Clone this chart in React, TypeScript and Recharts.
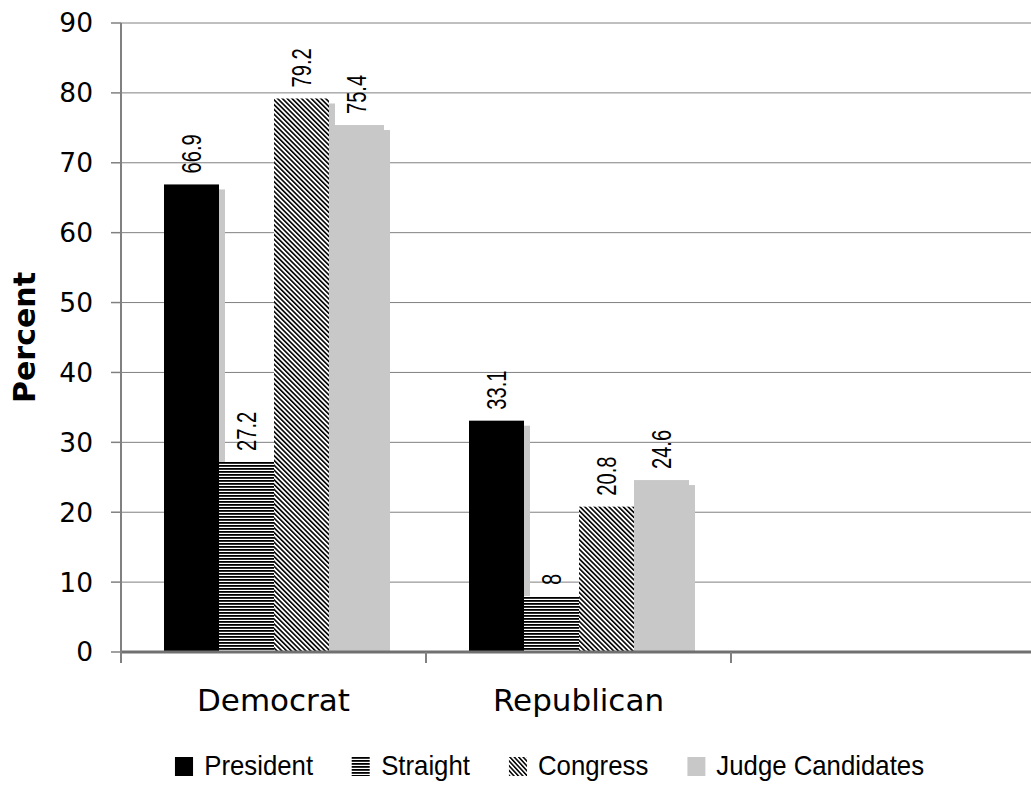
import React from "react";
import {
  BarChart, Bar, XAxis, YAxis, CartesianGrid, Legend, LabelList
} from "recharts";

const categories = ["Democrat", "Republican", ""];
const president = [66.9, 33.1, null];
const straight = [27.2, 8, null];
const congress = [79.2, 20.8, null];
const judge = [75.4, 24.6, null];
const yTicks = [0, 10, 20, 30, 40, 50, 60, 70, 80, 90];

const series = [
  { key: "president", name: "President", fill: "#000000", pattern: null },
  { key: "straight", name: "Straight", fill: "url(#hStripe)", pattern: "h" },
  { key: "congress", name: "Congress", fill: "url(#dStripe)", pattern: "d" },
  { key: "judge", name: "Judge Candidates", fill: "#c8c8c8", pattern: null },
];

const data = categories.map((c, i) => ({
  cat: c,
  president: president[i],
  straight: straight[i],
  congress: congress[i],
  judge: judge[i],
}));

const GRID = "#808080";
const SHADOW = "#c8c8c8";

function Patterns({ suffix = "" }: { suffix?: string }) {
  return (
    <defs>
      <pattern id={"hStripe" + suffix} width="4" height="3" patternUnits="userSpaceOnUse">
        <rect width="4" height="3" fill="#ffffff" />
        <rect width="4" height="1.8" fill="#000000" />
      </pattern>
      <pattern id={"dStripe" + suffix} width="3.4" height="3.4" patternUnits="userSpaceOnUse" patternTransform="rotate(-45)">
        <rect width="3.4" height="3.4" fill="#ffffff" />
        <rect width="1.6" height="3.4" fill="#000000" />
      </pattern>
    </defs>
  );
}

// bar with a light gray drop shadow, offset right and down
const shadowShape = (fill: string) => (props: any) => {
  const { x, y, width, height } = props;
  if (!height || height <= 0) return <g />;
  return (
    <g>
      <rect x={x + 6} y={y + 5} width={width} height={Math.max(height - 5, 0)} fill={SHADOW} />
      <rect x={x} y={y} width={width} height={height} fill={fill} />
    </g>
  );
};

// vertical value label, a bit condensed along its length like the original
const ValueLabel = (props: any) => {
  const { x, y, width, value } = props;
  if (value == null) return null;
  const cx = x + width / 2;
  const ty = y - 11;
  return (
    <text
      x={0}
      y={0}
      transform={`translate(${cx}, ${ty}) rotate(-90) scale(0.72, 1)`}
      textAnchor="start"
      dominantBaseline="central"
      fontFamily="'Liberation Sans', Arial, sans-serif"
      fontSize={28}
      fill="#000"
    >
      {value}
    </text>
  );
};

const CatTick = (props: any) => {
  const { x, y, payload } = props;
  const off = payload.offset ?? 0;
  return (
    <g>
      <line x1={x - off} x2={x - off} y1={y} y2={y + 11} stroke={GRID} strokeWidth={2} />
      <text
        x={x}
        y={y + 48}
        textAnchor="middle"
        dominantBaseline="central"
        fontFamily="'DejaVu Sans', Verdana, sans-serif"
        fontSize={31}
        fill="#000"
      >
        {payload.value}
      </text>
    </g>
  );
};

const YLabel = (props: any) => {
  const { viewBox } = props;
  const cx = viewBox.x + 24;
  const cy = viewBox.y + viewBox.height / 2;
  return (
    <text
      x={cx}
      y={cy}
      transform={`rotate(-90, ${cx}, ${cy})`}
      textAnchor="middle"
      dominantBaseline="central"
      fontFamily="'DejaVu Sans', Verdana, sans-serif"
      fontWeight="bold"
      fontSize={30}
      fill="#000"
    >
      Percent
    </text>
  );
};

const LegendContent = () => (
  <div
    style={{
      height: 32,
      display: "flex",
      alignItems: "center",
      justifyContent: "flex-start",
      paddingLeft: 190,
      fontFamily: "'Liberation Sans', Arial, sans-serif",
      fontSize: 28,
      color: "#000",
      transform: "scaleX(0.92)",
      transformOrigin: "0 0",
      whiteSpace: "nowrap",
    }}
  >
    {series.map((s, i) => (
      <div key={s.key} style={{ display: "flex", alignItems: "center", marginRight: i < series.length - 1 ? 42 : 0 }}>
        <svg width={20} height={19} style={{ marginRight: 12 }}>
          <Patterns suffix={"L" + i} />
          <rect
            width={20}
            height={19}
            fill={s.pattern === "h" ? `url(#hStripeL${i})` : s.pattern === "d" ? `url(#dStripeL${i})` : s.fill}
          />
        </svg>
        <span>{s.name}</span>
      </div>
    ))}
  </div>
);

export default function App() {
  return (
    <div style={{ position: "absolute", left: 0, top: 0, width: 1031, height: 786, overflow: "hidden", background: "#fff" }}>
      <BarChart
        width={1040}
        height={786}
        data={data}
        margin={{ top: 23, right: 4, left: 0, bottom: 4 }}
        barGap={0}
        barSize={55}
      >
        <Patterns />
        <CartesianGrid horizontal vertical={false} stroke={GRID} strokeWidth={1} />
        <XAxis
          dataKey="cat"
          height={98}
          tickLine={false}
          tickSize={0}
          tickMargin={0}
          axisLine={{ stroke: "#707070", strokeWidth: 3 }}
          tick={<CatTick />}
          interval={0}
        />
        <YAxis
          width={121}
          domain={[0, 90]}
          ticks={yTicks}
          interval={0}
          tickSize={10}
          tickMargin={18}
          axisLine={{ stroke: GRID, strokeWidth: 2 }}
          tickLine={{ stroke: GRID, strokeWidth: 1.5 }}
          tick={{ fontFamily: "'DejaVu Sans', Verdana, sans-serif", fontSize: 26.5, fill: "#000" }}
          label={<YLabel />}
        />
        <Legend verticalAlign="bottom" content={<LegendContent />} />
        {series.map((s) => (
          <Bar
            key={s.key}
            dataKey={s.key}
            name={s.name}
            fill={s.fill}
            shape={shadowShape(s.fill)}
            isAnimationActive={false}
          >
            <LabelList dataKey={s.key} content={<ValueLabel />} />
          </Bar>
        ))}
      </BarChart>
    </div>
  );
}
